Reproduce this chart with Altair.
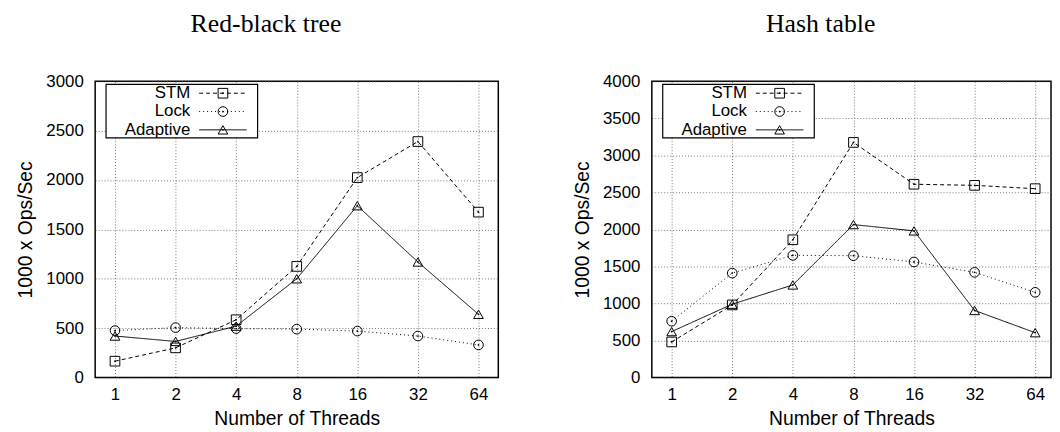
import altair as alt
import pandas as pd

threads = [1, 2, 4, 8, 16, 32, 64]
series_names = ["STM", "Lock", "Adaptive"]

rb_stm = [165, 300, 585, 1125, 2025, 2390, 1675]
rb_lock = [475, 505, 495, 490, 470, 420, 330]
rb_adaptive = [420, 365, 520, 1000, 1740, 1170, 640]

ht_stm = [480, 980, 1860, 3175, 2610, 2595, 2550]
ht_lock = [760, 1410, 1650, 1645, 1560, 1420, 1150]
ht_adaptive = [620, 990, 1250, 2065, 1980, 905, 605]

panel_titles = ["Red-black tree", "Hash table"]
x_title = "Number of Threads"
y_title = "1000 x Ops/Sec"

dash_range = [[4, 3], [1, 3], [1, 0]]
shape_range = ["square", "circle", "triangle-up"]


def make_df(stm, lock, adaptive):
    rows = []
    for name, vals in zip(series_names, [stm, lock, adaptive]):
        for t, v in zip(threads, vals):
            rows.append({"threads": t, "ops": v, "series": name})
    return pd.DataFrame(rows)


def panel(df, title, ymax, width, xmax):
    x = alt.X("threads:Q",
              scale=alt.Scale(type="log", base=2, domain=[0.797, xmax]),
              axis=alt.Axis(values=threads, format="d", title=x_title,
                            labelFlush=False, labelOverlap=False,
                            labelPadding=9, titlePadding=7))
    y = alt.Y("ops:Q",
              scale=alt.Scale(domain=[0, ymax]),
              axis=alt.Axis(values=list(range(0, ymax + 1, 500)), title=y_title,
                            format="d",
                            labelFlush=False, labelOverlap=False,
                            labelPadding=12, titlePadding=10))
    dash = alt.StrokeDash("series:N",
                          scale=alt.Scale(domain=series_names, range=dash_range),
                          legend=None)
    shape = alt.Shape("series:N",
                      scale=alt.Scale(domain=series_names, range=shape_range),
                      legend=None)
    lines = alt.Chart(df).mark_line(color="black", strokeWidth=1).encode(
        x=x, y=y, strokeDash=dash, detail="series:N")
    pts = alt.Chart(df).mark_point(color="black", size=95, strokeWidth=1,
                                   opacity=1, filled=False).encode(
        x=x, y=y, shape=shape)
    dots = alt.Chart(df).mark_circle(color="black", size=3, opacity=1).encode(
        x=x, y=y)
    data_layer = alt.layer(lines, pts, dots)

    leg = pd.DataFrame({"series": series_names})
    ly = alt.Y("series:N", sort=series_names,
               scale=alt.Scale(type="point", range=[12, 49], padding=0),
               axis=None)
    box = alt.Chart(pd.DataFrame({"series": ["box"]})).mark_rect(
        fill="white", stroke="black", strokeWidth=1.2).encode(
        x=alt.value(11), x2=alt.value(164), y=alt.value(3), y2=alt.value(57))
    leg_rule = alt.Chart(leg).mark_rule(color="black", strokeWidth=1).encode(
        x=alt.value(105), x2=alt.value(153), y=ly, strokeDash=dash)
    leg_pts = alt.Chart(leg).mark_point(color="black", size=95, strokeWidth=1,
                                        opacity=1, filled=False).encode(
        x=alt.value(129), y=ly, shape=shape)
    leg_dots = alt.Chart(leg).mark_circle(color="black", size=3, opacity=1).encode(
        x=alt.value(129), y=ly)
    leg_text = alt.Chart(leg).mark_text(align="right", baseline="middle",
                                        fontSize=17, font="Liberation Sans",
                                        color="black").encode(
        x=alt.value(96), y=ly, text="series:N")

    return alt.layer(data_layer, box, leg_rule, leg_pts, leg_dots, leg_text).resolve_scale(
        y="independent").properties(
        width=width, height=299,
        title=alt.TitleParams(title, font="Liberation Serif", fontSize=26,
                              fontWeight="normal", anchor="middle", frame="group",
                              dx=-31, offset=15, baseline="alphabetic",
                              color="black"))


left = panel(make_df(rb_stm, rb_lock, rb_adaptive), panel_titles[0], 3000, 407, 80.3)
right = panel(make_df(ht_stm, ht_lock, ht_adaptive), panel_titles[1], 4000, 403, 76.7)

chart = alt.hconcat(left, right, spacing=73).properties(
    padding={"left": 7, "top": 0, "right": 0, "bottom": 0}
).configure_view(
    stroke="black", strokeWidth=1.5
).configure_axis(
    labelFont="Liberation Sans", labelFontSize=17, labelColor="black",
    titleFont="Liberation Sans", titleFontSize=19.5, titleFontWeight="normal",
    titleColor="black", domain=False, ticks=False,
    grid=True, gridColor="#555", gridDash=[1, 2], gridWidth=0.8, gridOpacity=1
)

chart.save("out.html", embed_options={"renderer": "svg", "actions": False})
